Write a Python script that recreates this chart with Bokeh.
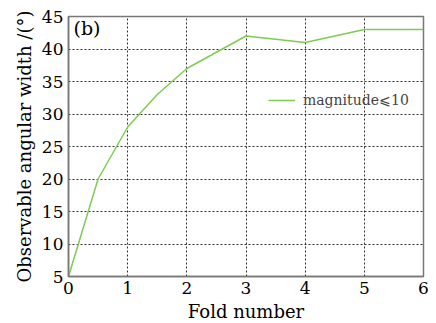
from bokeh.plotting import figure
from bokeh.models import Label, Legend, LegendItem, FixedTicker, Range1d
from bokeh.embed import file_html
from bokeh.resources import INLINE

fold = [0, 0.5, 1, 1.5, 2, 3, 4, 5, 6]
width = [5, 20, 28, 33, 37, 42, 41, 43, 43]
x_ticks = [0, 1, 2, 3, 4, 5, 6]
y_ticks = [5, 10, 15, 20, 25, 30, 35, 40, 45]
series_name = "magnitude\u2a7d10"

FONT = "DejaVu Serif"

p = figure(output_backend="svg", toolbar_location=None,
           frame_width=355, frame_height=260,
           min_border_left=68, min_border_right=13, min_border_top=16, min_border_bottom=47,
           x_range=Range1d(0, 6), y_range=Range1d(5, 45))
p.width = 436
p.height = 323

r = p.line(fold, width, line_color="#7ccd52", line_width=1.5)

p.xaxis.ticker = FixedTicker(ticks=x_ticks)
p.yaxis.ticker = FixedTicker(ticks=y_ticks)
for ax in (p.xaxis[0], p.yaxis[0]):
    ax.major_label_text_font = FONT
    ax.major_label_text_font_size = "17px"
    ax.major_label_text_color = "black"
    ax.axis_label_text_font = FONT
    ax.axis_label_text_font_size = "18px"
    ax.axis_label_text_font_style = "normal"
    ax.axis_label_text_color = "black"
    ax.axis_line_color = "#777777"
    ax.axis_line_width = 1.5
    ax.major_tick_in = 0
    ax.major_tick_out = 0
    ax.minor_tick_in = 0
    ax.minor_tick_out = 0
    ax.major_label_standoff = 5
    ax.axis_label_standoff = 4
p.xaxis.axis_label = "Fold number"
p.yaxis.axis_label = "Observable angular width /(\u00b0)"

p.xgrid.ticker = FixedTicker(ticks=x_ticks)
p.ygrid.ticker = FixedTicker(ticks=y_ticks)
for g in (p.xgrid[0], p.ygrid[0]):
    g.grid_line_color = "black"
    g.grid_line_dash = "2 2"
    g.grid_line_width = 1
    g.grid_line_alpha = 0.8

p.outline_line_color = "#777777"
p.outline_line_width = 1.5
p.background_fill_color = "white"
p.border_fill_color = "white"

legend = Legend(items=[LegendItem(label=series_name, renderers=[r])],
                location=(200, 166), border_line_color=None,
                background_fill_alpha=0, padding=2, glyph_width=27,
                label_text_font=FONT, label_text_font_size="14px",
                label_standoff=8)
p.add_layout(legend)

p.add_layout(Label(x=5, y=238, x_units="screen", y_units="screen", text="(b)",
                   text_baseline="bottom",
                   text_font=FONT, text_font_size="19px", text_color="black"))

open("out.html", "w").write(file_html(p, INLINE))
